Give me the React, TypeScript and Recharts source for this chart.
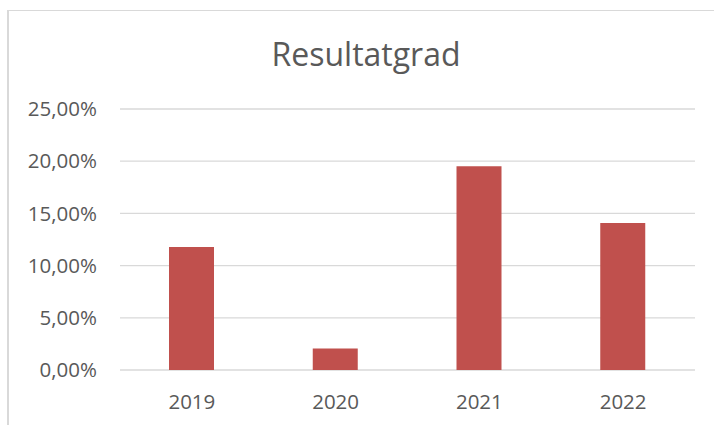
import { BarChart, Bar, XAxis, YAxis, CartesianGrid } from 'recharts';

const years = ['2019', '2020', '2021', '2022'];
const resultatgrad = [0.1178, 0.0205, 0.1951, 0.1408];
const yTicks = [0, 0.05, 0.1, 0.15, 0.2, 0.25];

const data = years.map((year, i) => ({ year, value: resultatgrad[i] }));

const FONT = '"Open Sans", sans-serif';
const TEXT = '#595959';

// 0,05 -> "5,00%"
const pct = (v: number) => `${(v * 100).toFixed(2).replace('.', ',')}%`;

export default function App() {
  return (
    <div style={{ position: 'absolute', left: 0, top: 0, width: 714, height: 425, overflow: 'hidden', background: '#fff' }}>
      {/* chart frame, only left and top edges are visible */}
      <div
        style={{
          position: 'absolute',
          left: 7,
          top: 10,
          width: 740,
          height: 440,
          borderLeft: '2px solid #d9d9d9',
          borderTop: '1px solid #d9d9d9',
          boxSizing: 'border-box',
        }}
      />
      <div
        style={{
          position: 'absolute',
          left: 18,
          top: 32,
          width: 696,
          textAlign: 'center',
          fontFamily: FONT,
          fontSize: 32,
          color: TEXT,
          lineHeight: 'normal',
        }}
      >
        Resultatgrad
      </div>
      <div style={{ position: 'absolute', left: 0, top: 0 }}>
        <BarChart width={714} height={425} data={data} margin={{ top: 109, right: 19, bottom: 25, left: 0 }}>
          <CartesianGrid vertical={false} stroke="#d9d9d9" strokeWidth={1.3} />
          <XAxis
            dataKey="year"
            axisLine={false}
            tickLine={false}
            tickSize={0}
            tickMargin={24}
            height={30}
            tick={{ fill: TEXT, fontSize: 20.5, fontFamily: FONT }}
          />
          <YAxis
            domain={[0, 0.25]}
            ticks={yTicks}
            tickFormatter={pct}
            axisLine={false}
            tickLine={false}
            tickSize={0}
            tickMargin={23}
            width={120}
            tick={{ fill: TEXT, fontSize: 20.5, fontFamily: FONT }}
          />
          <Bar dataKey="value" fill="#c0504d" barSize={45} isAnimationActive={false} />
        </BarChart>
      </div>
    </div>
  );
}
